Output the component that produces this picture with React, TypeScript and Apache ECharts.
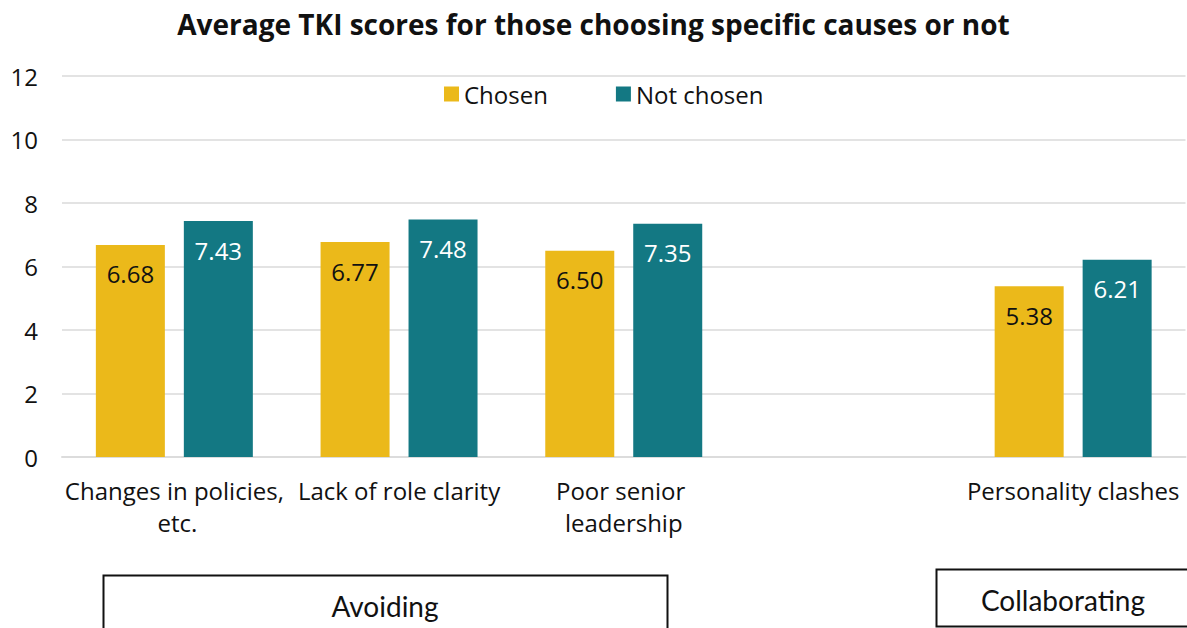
import React, { useEffect, useRef } from "react";
import * as echarts from "echarts";

const categories = [
  "Changes in policies, etc.",
  "Lack of role clarity",
  "Poor senior leadership",
  "",
  "Personality clashes",
];
const chosen: (number | null)[] = [6.68, 6.77, 6.5, null, 5.38];
const notChosen: (number | null)[] = [7.43, 7.48, 7.35, null, 6.21];
const seriesNames = ["Chosen", "Not chosen"];
const groupLabels = ["Avoiding", "Collaborating"];
const title = "Average TKI scores for those choosing specific causes or not";

const FONT = "'Open Sans', sans-serif";

export default function App() {
  const ref = useRef<HTMLDivElement>(null);
  useEffect(() => {
    if (!ref.current) return;
    const chart = echarts.init(ref.current, null, { renderer: "svg" });
    chart.setOption({
      animation: false,
      backgroundColor: "#ffffff",
      title: {
        text: title,
        left: "center",
        top: 5,
        textStyle: { fontFamily: FONT, fontSize: 28, fontWeight: "bold", color: "#111" },
      },
      legend: {
        data: seriesNames,
        left: 439,
        top: 77,
        itemWidth: 15,
        itemHeight: 15,
        itemGap: 68,
        icon: "rect",
        textStyle: { fontFamily: FONT, fontSize: 24, color: "#111" },
      },
      grid: { left: 62, right: 0, top: 76, bottom: 171, containLabel: false },
      xAxis: {
        type: "category",
        data: categories,
        axisTick: { show: false },
        axisLine: { show: true, lineStyle: { color: "#dcdcdc", width: 2 } },
        axisLabel: {
          interval: 0,
          margin: 17,
          fontFamily: FONT,
          fontSize: 24,
          color: "#111",
          width: 222,
          overflow: "break",
          lineHeight: 32,
        },
      },
      yAxis: {
        type: "value",
        min: 0,
        max: 12,
        interval: 2,
        axisLine: { show: false },
        axisTick: { show: false },
        splitLine: { lineStyle: { color: "#e3e3e3", width: 2 } },
        axisLabel: { fontFamily: FONT, fontSize: 24, color: "#111", margin: 24 },
      },
      series: [
        {
          name: seriesNames[0],
          type: "bar",
          data: chosen,
          barWidth: 69,
          barGap: "27.5%",
          itemStyle: { color: "#EBB91A" },
          label: {
            show: true,
            position: "insideTop",
            distance: 17,
            formatter: (p: any) => Number(p.value).toFixed(2),
            fontFamily: FONT,
            fontSize: 24,
            color: "#111",
          },
        },
        {
          name: seriesNames[1],
          type: "bar",
          data: notChosen,
          barWidth: 69,
          itemStyle: { color: "#137883" },
          label: {
            show: true,
            position: "insideTop",
            distance: 17,
            formatter: (p: any) => Number(p.value).toFixed(2),
            fontFamily: FONT,
            fontSize: 24,
            color: "#ffffff",
          },
        },
      ],
      graphic: [
        {
          type: "rect",
          shape: { x: 103.5, y: 575.5, width: 564, height: 80 },
          style: { fill: "#fff", stroke: "#111", lineWidth: 2 },
        },
        {
          type: "text",
          x: 385,
          y: 606,
          style: {
            text: groupLabels[0],
            fontFamily: "Lato, 'Liberation Sans', sans-serif",
            fontSize: 28,
            fill: "#111",
            align: "center",
            verticalAlign: "middle",
          },
        },
        {
          type: "rect",
          shape: { x: 936.5, y: 569.5, width: 270, height: 57 },
          style: { fill: "#fff", stroke: "#111", lineWidth: 2 },
        },
        {
          type: "text",
          x: 1063,
          y: 600,
          style: {
            text: groupLabels[1],
            fontFamily: "Lato, 'Liberation Sans', sans-serif",
            fontSize: 28,
            fill: "#111",
            align: "center",
            verticalAlign: "middle",
          },
        },
      ],
    });
    return () => chart.dispose();
  }, []);
  return (
    <div
      ref={ref}
      style={{ position: "fixed", left: 0, top: 0, width: 1187, height: 628 }}
    />
  );
}
